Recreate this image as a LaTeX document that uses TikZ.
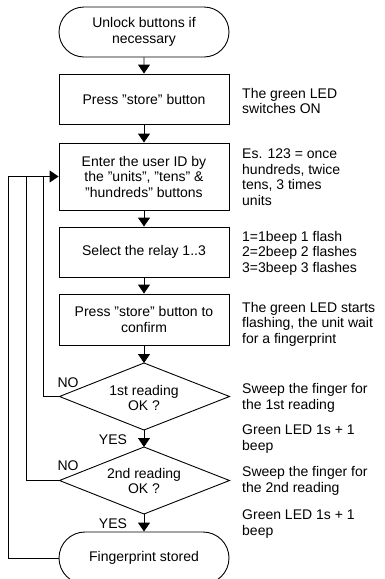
\documentclass[tikz,border=0pt]{standalone}
\usepackage{fontspec}
\setmainfont{Liberation Sans}
\usetikzlibrary{shapes.misc,shapes.geometric,arrows.meta}
\begin{document}
\begin{tikzpicture}[x=1pt,y=-1pt,
  every node/.style={font=\fontsize{14}{15.5}\selectfont},
  proc/.style={draw,line width=0.9pt,minimum width=170pt,minimum height=50pt,inner sep=0pt,align=center},
  term/.style={draw,line width=0.9pt,rounded rectangle,minimum width=170pt,minimum height=50pt,inner sep=0pt,align=center},
  dectext/.style={inner sep=0pt,align=center},
  decline/.style={line width=0.9pt},
  note/.style={anchor=west,align=left,inner sep=0pt},
  lbl/.style={inner sep=0pt},
  flow/.style={line width=0.9pt,-{Triangle[length=9pt,width=12pt]}},
  wire/.style={line width=0.9pt}]
\useasboundingbox (0,0) rectangle (385,579);
\clip (0,0) rectangle (385,579);
\fill[white] (0,0) rectangle (385,579);
% main column
\node[term] (start) at (144,32) {Unlock buttons if\\necessary};
\node[proc] (b1) at (144,99) {Press "store" button};
\node[proc,minimum height=67pt] (b2) at (144,176.5) {Enter the user ID by\\the "units", "tens" \&\\"hundreds" buttons};
\node[proc] (b3) at (144,252) {Select the relay 1..3};
\node[proc,minimum height=51pt] (b4) at (144,319.5) {Press "store" button to\\confirm};
% decision 1
\coordinate (d1t) at (144,363);
\coordinate (d1r) at (229.5,396.5);
\coordinate (d1b) at (144,430);
\coordinate (d1l) at (59.5,396.5);
\draw[decline] (d1t) -- (d1r) -- (d1b) -- (d1l) -- cycle;
\node[dectext] (d1) at (144,398) {1st reading\\OK ?};
% decision 2
\coordinate (d2t) at (144,447);
\coordinate (d2r) at (229.5,480.5);
\coordinate (d2b) at (144,514);
\coordinate (d2l) at (59.5,480.5);
\draw[decline] (d2t) -- (d2r) -- (d2b) -- (d2l) -- cycle;
\node[dectext] (d2) at (144,481) {2nd reading\\OK ?};
\node[term,minimum height=52pt] (end) at (144,558) {Fingerprint stored};
% side notes
\node[note] (n1) at (242,101) {The green LED\\switches ON};
\node[note] (n2) at (242,177) {Es. 123 = once\\hundreds, twice\\tens, 3 times\\units};
\node[note] (n3) at (242,253) {1=1beep 1 flash\\2=2beep 2 flashes\\3=3beep 3 flashes};
\node[note] (n4) at (242,324) {The green LED starts\\flashing, the unit wait\\for a fingerprint};
\node[note] (n5) at (242,398) {Sweep the finger for\\the 1st reading};
\node[note] (n6) at (242,439) {Green LED 1s + 1\\beep};
\node[note] (n7) at (242,481) {Sweep the finger for\\the 2nd reading};
\node[note] (n8) at (242,524) {Green LED 1s + 1\\beep};
% labels
\node[lbl] (no1) at (68,383) {NO};
\node[lbl] (yes1) at (113,440) {YES};
\node[lbl] (no2) at (68,466) {NO};
\node[lbl] (yes2) at (113,524) {YES};
% arrows
\draw[flow] (start) -- (b1);
\draw[flow] (b1) -- (b2);
\draw[flow] (b2) -- (b3);
\draw[flow] (b3) -- (b4);
\draw[flow] (b4) -- (d1t);
\draw[flow] (d1b) -- (d2t);
\draw[flow] (d2b) -- (end);
% loops
\coordinate (c1) at (43,176.5);
\coordinate (c2) at (26,176.5);
\coordinate (c3) at (8,176.5);
\draw[wire] (d1l) -| (c1);
\draw[wire] (d2l) -| (c2);
\draw[wire] (end.west) -| (c3);
\draw[flow] (c3) -- (b2.west);
\end{tikzpicture}
\end{document}
